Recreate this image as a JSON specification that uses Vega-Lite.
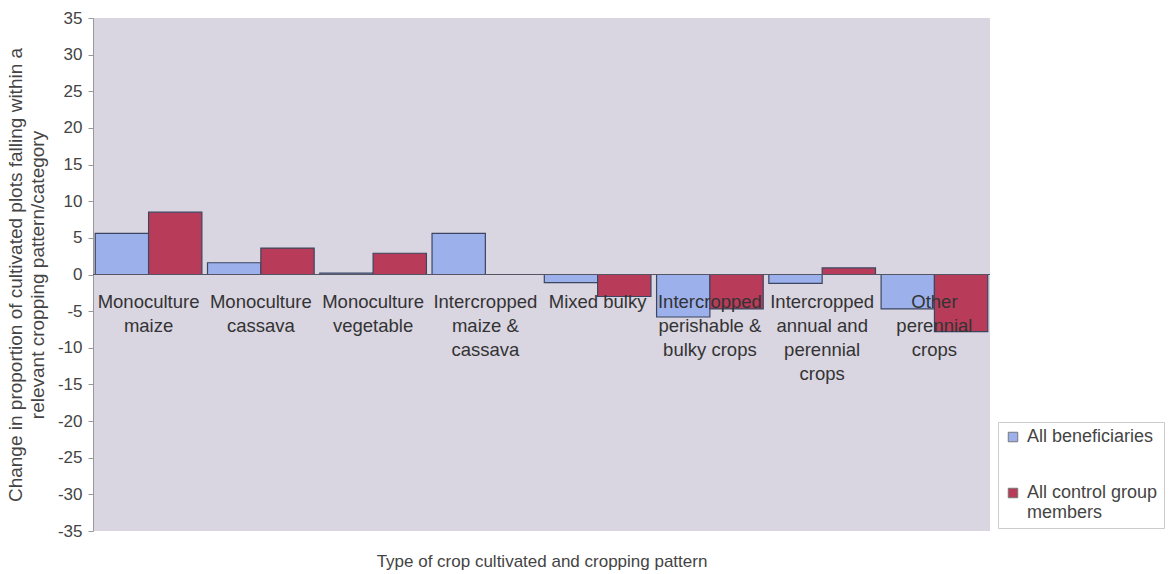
{
  "$schema": "https://vega.github.io/schema/vega-lite/v6.json",
  "width": 897,
  "height": 513,
  "autosize": {"type": "none"},
  "padding": {"left": 93, "top": 18, "right": 186, "bottom": 43},
  "background": "white",
  "config": {
    "view": {"fill": "#d9d5e1", "stroke": null},
    "font": "Liberation Sans",
    "axis": {"labelFont": "Liberation Sans", "titleFont": "Liberation Sans", "labelColor": "#444", "titleColor": "#444", "titleFontWeight": "normal"},
    "axisY": {
      "values": [-35, -30, -25, -20, -15, -10, -5, 0, 5, 10, 15, 20, 25, 30, 35],
      "labelExpr": "toString(datum.value)",
      "labelOverlap": false,
      "labelFlush": false,
      "grid": false,
      "domainColor": "#999",
      "tickColor": "#999",
      "tickSize": 5,
      "labelFontSize": 17,
      "labelPadding": 6,
      "titleFontSize": 19,
      "titleLineHeight": 22,
      "titlePadding": 10
    }
  },
  "datasets": {
    "bars": [
      {"category": "Monoculture maize", "group": "All beneficiaries", "value": 5.6},
      {"category": "Monoculture maize", "group": "All control group members", "value": 8.5},
      {"category": "Monoculture cassava", "group": "All beneficiaries", "value": 1.6},
      {"category": "Monoculture cassava", "group": "All control group members", "value": 3.6},
      {"category": "Monoculture vegetable", "group": "All beneficiaries", "value": 0.2},
      {"category": "Monoculture vegetable", "group": "All control group members", "value": 2.9},
      {"category": "Intercropped maize & cassava", "group": "All beneficiaries", "value": 5.6},
      {"category": "Intercropped maize & cassava", "group": "All control group members", "value": 0},
      {"category": "Mixed bulky", "group": "All beneficiaries", "value": -1.1},
      {"category": "Mixed bulky", "group": "All control group members", "value": -3.0},
      {"category": "Intercropped perishable & bulky crops", "group": "All beneficiaries", "value": -5.8},
      {"category": "Intercropped perishable & bulky crops", "group": "All control group members", "value": -4.7},
      {"category": "Intercropped annual and perennial crops", "group": "All beneficiaries", "value": -1.2},
      {"category": "Intercropped annual and perennial crops", "group": "All control group members", "value": 0.9},
      {"category": "Other perennial crops", "group": "All beneficiaries", "value": -4.7},
      {"category": "Other perennial crops", "group": "All control group members", "value": -7.8}
    ],
    "labels": [
      {"category": "Monoculture maize", "lines": ["Monoculture", "maize"]},
      {"category": "Monoculture cassava", "lines": ["Monoculture", "cassava"]},
      {"category": "Monoculture vegetable", "lines": ["Monoculture", "vegetable"]},
      {"category": "Intercropped maize & cassava", "lines": ["Intercropped", "maize &", "cassava"]},
      {"category": "Mixed bulky", "lines": ["Mixed bulky"]},
      {"category": "Intercropped perishable & bulky crops", "lines": ["Intercropped", "perishable &", "bulky crops"]},
      {"category": "Intercropped annual and perennial crops", "lines": ["Intercropped", "annual and", "perennial", "crops"]},
      {"category": "Other perennial crops", "lines": ["Other", "perennial", "crops"]}
    ]
  },
  "encoding": {
    "x": {
      "field": "category",
      "type": "nominal",
      "sort": ["Monoculture maize", "Monoculture cassava", "Monoculture vegetable", "Intercropped maize & cassava", "Mixed bulky", "Intercropped perishable & bulky crops", "Intercropped annual and perennial crops", "Other perennial crops"],
      "scale": {"paddingInner": 0.05, "paddingOuter": 0.02},
      "axis": {"labels": false, "ticks": false, "domain": false, "title": "Type of crop cultivated and cropping pattern", "titleFontSize": 17, "titlePadding": 22}
    }
  },
  "layer": [
    {
      "data": {"name": "bars"},
      "mark": {"type": "bar", "stroke": "#3d4660", "strokeWidth": 1.2},
      "encoding": {
        "xOffset": {"field": "group", "type": "nominal", "sort": ["All beneficiaries", "All control group members"], "scale": {"paddingInner": 0}},
        "y": {
          "field": "value",
          "type": "quantitative",
          "scale": {"domain": [-35, 35], "nice": false},
          "axis": {"title": ["Change in proportion of cultivated plots falling within a", "relevant cropping pattern/category"]}
        },
        "color": {
          "field": "group",
          "type": "nominal",
          "scale": {"domain": ["All beneficiaries", "All control group members"], "range": ["#9cb0ec", "#b83c5a"]},
          "legend": {
            "title": null,
            "orient": "none",
            "legendX": 905,
            "legendY": 404,
            "symbolType": "square",
            "symbolSize": 90,
            "symbolStrokeColor": "#777",
            "symbolStrokeWidth": 1,
            "labelFontSize": 18,
            "labelColor": "#444",
            "labelLimit": 220,
            "labelOffset": 5,
            "rowPadding": 38,
            "padding": 6,
            "strokeColor": "#ccc",
            "fillColor": "white",
            "labelExpr": "datum.label == 'All control group members' ? ['All control group', 'members'] : datum.label"
          }
        }
      }
    },
    {
      "data": {"values": [{"v": 0}]},
      "mark": {"type": "rule", "color": "#556", "strokeWidth": 1},
      "encoding": {"y": {"field": "v", "type": "quantitative", "axis": {"title": ["Change in proportion of cultivated plots falling within a", "relevant cropping pattern/category"]}}, "x": null}
    },
    {
      "data": {"name": "labels"},
      "mark": {"type": "text", "baseline": "top", "align": "center", "fontSize": 18.5, "color": "#333", "lineHeight": 24, "dy": 18},
      "encoding": {
        "y": {"datum": 0, "type": "quantitative", "axis": {"title": ["Change in proportion of cultivated plots falling within a", "relevant cropping pattern/category"]}},
        "text": {"field": "lines", "type": "nominal"}
      }
    }
  ]
}
